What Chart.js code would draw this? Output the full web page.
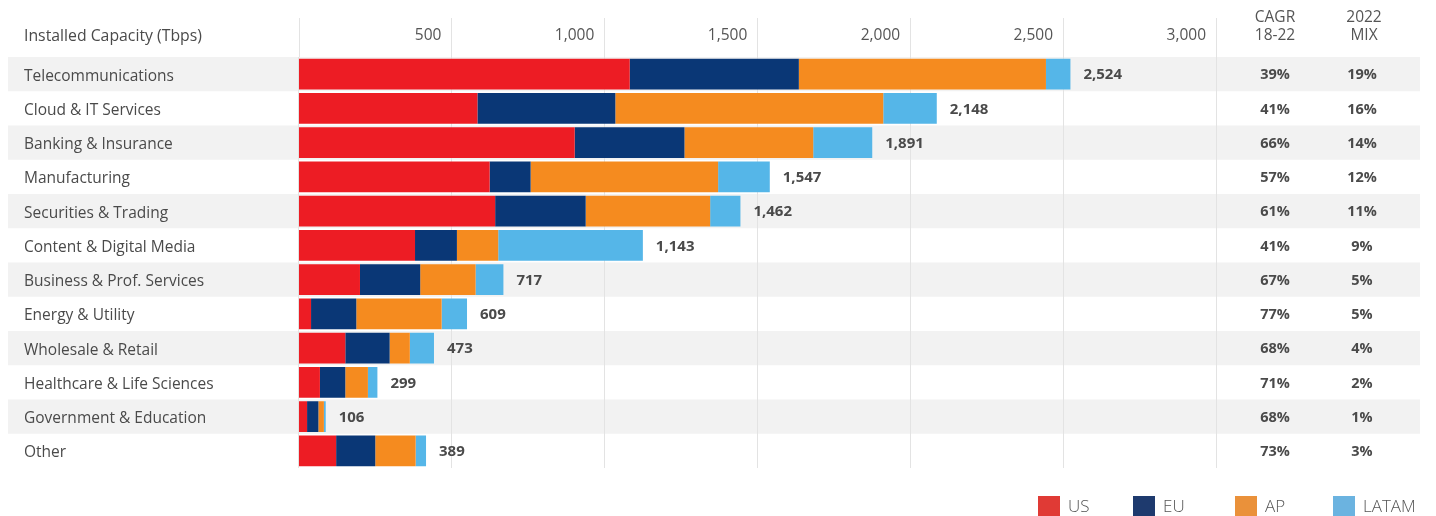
<!DOCTYPE html>
<html>
<head>
<meta charset="utf-8">
<script src="https://cdn.jsdelivr.net/npm/chart.js@4/dist/chart.umd.min.js"></script>
<style>
  html, body { margin: 0; padding: 0; background: #fff; }
  #chart { display: block; }
</style>
</head>
<body>
<canvas id="chart" width="1436" height="516"></canvas>
<script>
// categorias e valores (Tbps)
const industries = ['Telecommunications', 'Cloud & IT Services', 'Banking & Insurance', 'Manufacturing',
    'Securities & Trading', 'Content & Digital Media', 'Business & Prof. Services', 'Energy & Utility',
    'Wholesale & Retail', 'Healthcare & Life Sciences', 'Government & Education', 'Other'];
const usValues    = [1083, 585, 903, 625, 643, 381, 201, 41, 153, 70, 28, 123];
const euValues    = [553, 451, 359, 134, 296, 137, 197, 148, 145, 83, 37, 128];
const apValues    = [808, 876, 421, 613, 407, 135, 181, 279, 66, 74, 18, 132];
const latamValues = [80, 175, 193, 169, 99, 473, 91, 83, 79, 31, 6, 34];
const totalLabels = ['2,524', '2,148', '1,891', '1,547', '1,462', '1,143', '717', '609', '473', '299', '106', '389'];
const cagrLabels  = ['39%', '41%', '66%', '57%', '61%', '41%', '67%', '77%', '68%', '71%', '68%', '73%'];
const mixLabels   = ['19%', '16%', '14%', '12%', '11%', '9%', '5%', '5%', '4%', '2%', '1%', '3%'];
const regionNames = ['US', 'EU', 'AP', 'LATAM'];
const xTicks = [500, 1000, 1500, 2000, 2500, 3000];

const barColors    = ['#ed1c24', '#0a3776', '#f58b1f', '#55b6e8'];
const legendColors = ['#e03a35', '#1e3a6e', '#ea913a', '#6bb3e0'];
const FONT = '"Open Sans", Lato, sans-serif';

document.addEventListener('DOMContentLoaded', function() {
    const series = [usValues, euValues, apValues, latamValues];

    // Desenho extra: faixas, cabeçalho, totais, colunas e legenda
    const extras = {
        id: 'extras',
        beforeDraw(chart) {
            const ctx = chart.ctx;
            const y = chart.scales.y;
            const rowH = Math.abs(y.getPixelForValue(1) - y.getPixelForValue(0));
            ctx.save();
            ctx.fillStyle = '#f2f2f2';
            industries.forEach((_, i) => {
                if (i % 2 === 0) {
                    const cy = y.getPixelForValue(i);
                    ctx.fillRect(8, cy - rowH / 2, 1412, rowH);
                }
            });
            ctx.restore();
        },
        afterDraw(chart) {
            const ctx = chart.ctx;
            const x = chart.scales.x;
            const y = chart.scales.y;
            const top = chart.chartArea.top;
            ctx.save();

            // prolongar as linhas da grelha no cabeçalho
            ctx.strokeStyle = '#e3e3e3';
            ctx.lineWidth = 1;
            [0].concat(xTicks).forEach(v => {
                const px = Math.round(x.getPixelForValue(v)) + 0.5;
                ctx.beginPath();
                ctx.moveTo(px, 18);
                ctx.lineTo(px, top);
                ctx.stroke();
            });

            // rótulos do eixo
            ctx.fillStyle = '#555';
            ctx.font = '15.5px ' + FONT;
            ctx.textBaseline = 'middle';
            ctx.textAlign = 'right';
            xTicks.forEach(v => {
                ctx.fillText(v.toLocaleString('en-US'), x.getPixelForValue(v) - 10, 36);
            });
            ctx.textAlign = 'left';
            ctx.fillStyle = '#4a4a4a';
            ctx.font = '15.8px ' + FONT;
            ctx.fillText('Installed Capacity (Tbps)', 24, 36);
            ctx.fillStyle = '#555';
            ctx.font = '15.5px ' + FONT;
            ctx.textAlign = 'center';
            ctx.fillText('CAGR', 1275, 18);
            ctx.fillText('18-22', 1275, 36);
            ctx.fillText('2022', 1364, 18);
            ctx.fillText('MIX', 1364, 36);

            // totais e colunas
            ctx.font = 'bold 15px ' + FONT;
            ctx.fillStyle = '#4a4a4a';
            industries.forEach((_, i) => {
                const cy = y.getPixelForValue(i);
                const sum = series.reduce((s, arr) => s + arr[i], 0);
                ctx.textAlign = 'left';
                ctx.fillText(totalLabels[i], x.getPixelForValue(sum) + 13, cy + 1);
                ctx.textAlign = 'center';
                ctx.font = 'bold 14.5px ' + FONT;
                ctx.fillText(cagrLabels[i], 1275, cy + 1);
                ctx.fillText(mixLabels[i], 1362, cy + 1);
                ctx.font = 'bold 15px ' + FONT;
            });

            // legenda
            const legendX = [1038, 1133, 1235, 1333];
            ctx.font = '300 17px ' + FONT;
            ctx.textAlign = 'left';
            regionNames.forEach((name, i) => {
                ctx.fillStyle = legendColors[i];
                ctx.fillRect(legendX[i], 496, 22, 20);
                ctx.fillStyle = '#555';
                ctx.fillText(name, legendX[i] + 30, 507);
            });
            ctx.restore();
        }
    };

    const ctx = document.getElementById('chart').getContext('2d');
    new Chart(ctx, {
        type: 'bar',
        data: {
            labels: industries,
            datasets: regionNames.map((name, i) => ({
                label: name,
                data: series[i],
                backgroundColor: barColors[i],
                borderWidth: 0,
                barPercentage: 0.9,
                categoryPercentage: 1.0
            }))
        },
        options: {
            indexAxis: 'y',
            responsive: false,
            animation: false,
            devicePixelRatio: 1,
            layout: {
                padding: { left: 24, right: 220, top: 57, bottom: 48 }
            },
            plugins: {
                legend: { display: false },
                tooltip: { enabled: false }
            },
            scales: {
                x: {
                    position: 'top',
                    stacked: true,
                    min: 0,
                    max: 3000,
                    ticks: { display: false, stepSize: 500 },
                    grid: { color: '#e3e3e3', drawTicks: false },
                    border: { display: false },
                    afterFit(scale) { scale.height = 0; }
                },
                y: {
                    stacked: true,
                    ticks: {
                        crossAlign: 'far',
                        labelOffset: 2,
                        color: '#4a4a4a',
                        font: { family: FONT, size: 15.5 }
                    },
                    grid: { display: false },
                    border: { display: false },
                    afterFit(scale) { scale.width = 274.5; }
                }
            }
        },
        plugins: [extras]
    });
});
</script>
</body>
</html>
